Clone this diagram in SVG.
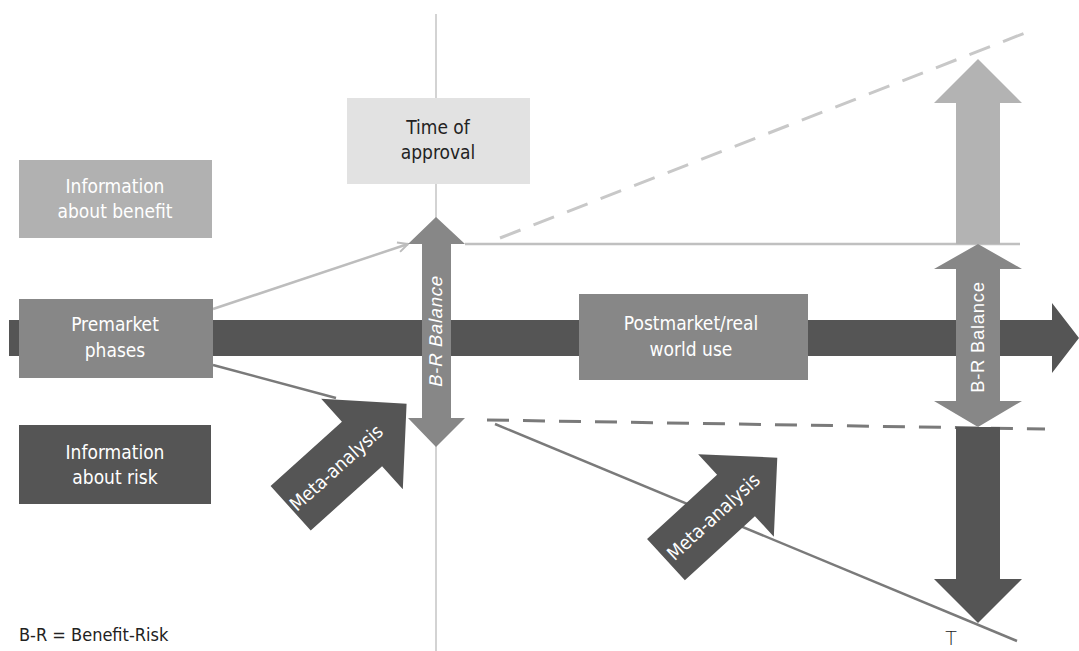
<svg xmlns="http://www.w3.org/2000/svg" width="1079" height="651" viewBox="0 0 1079 651">
<defs>
<style>
.lbl{font-family:"Liberation Sans Narrow","DejaVu Sans Condensed","Liberation Sans",sans-serif;font-size:19px;text-anchor:middle;fill:#ffffff}
.dark{fill:#222222}
.br{font-family:"Liberation Sans",Arial,sans-serif;font-size:18.5px;text-anchor:middle;fill:#ffffff;letter-spacing:0.7px}
.meta{font-family:"Liberation Sans Narrow","DejaVu Sans Condensed","Liberation Sans",sans-serif;font-size:19px;text-anchor:middle;fill:#ffffff}
</style>
<marker id="open" viewBox="0 0 12 12" refX="11" refY="6" markerWidth="12" markerHeight="12" markerUnits="userSpaceOnUse" orient="auto">
<path d="M1,1 L11,6 L1,11" fill="none" stroke="#bdbdbd" stroke-width="2"/>
</marker>
</defs>
<rect width="1079" height="651" fill="#ffffff"/>
<g id="connectors">
<line x1="436" y1="14" x2="436" y2="651" stroke="#c4c4c4" stroke-width="1.5"/>
<line x1="500" y1="238" x2="1025" y2="33" stroke="#c8c8c8" stroke-width="3" stroke-dasharray="22 14"/>
<line x1="465" y1="244" x2="1020" y2="244" stroke="#c0c0c0" stroke-width="2.5"/>
<line x1="487" y1="420" x2="1045" y2="429" stroke="#7a7a7a" stroke-width="3" stroke-dasharray="22 14"/>
<line x1="495" y1="424" x2="1017" y2="641" stroke="#7a7a7a" stroke-width="2.5"/>
<line x1="213" y1="309" x2="408" y2="244" stroke="#bdbdbd" stroke-width="2.5" marker-end="url(#open)"/>
<line x1="213" y1="365" x2="336" y2="398" stroke="#7a7a7a" stroke-width="2.5"/>
</g>
<g id="main-arrow">
<polygon points="9,320 1052,320 1052,303 1079,338 1052,373 1052,356 9,356" fill="#555555"/>
</g>
<g id="time-of-approval">
<rect x="347" y="98" width="183" height="86" fill="#e2e2e2"/>
<text class="lbl dark" x="438" y="134">Time of</text>
<text class="lbl dark" x="438" y="159">approval</text>
</g>
<g id="info-benefit">
<rect x="19" y="160" width="193" height="78" fill="#b1b1b1"/>
<text class="lbl" x="115" y="193">Information</text>
<text class="lbl" x="115" y="218">about benefit</text>
</g>
<g id="premarket">
<rect x="19" y="299" width="194" height="79" fill="#878787"/>
<text class="lbl" x="115" y="331">Premarket</text>
<text class="lbl" x="115" y="357">phases</text>
</g>
<g id="info-risk">
<rect x="19" y="425" width="192" height="79" fill="#555555"/>
<text class="lbl" x="115" y="459">Information</text>
<text class="lbl" x="115" y="484">about risk</text>
</g>
<g id="postmarket">
<rect x="579" y="294" width="229" height="86" fill="#878787"/>
<text class="lbl" x="691" y="330">Postmarket/real</text>
<text class="lbl" x="691" y="356">world use</text>
</g>
<g id="br-balance-left">
<polygon points="436,217 465,244 451,244 451,418 465,418 436,447 408,418 422,418 422,244 408,244" fill="#878787"/>
<text class="br" transform="translate(442,332) rotate(-90) skewX(-12)" x="0" y="0">B-R Balance</text>
</g>
<g id="benefit-up">
<polygon points="978,59 1022,103 1000,103 1000,244 956,244 956,103 934,103" fill="#b3b3b3"/>
</g>
<g id="risk-down">
<polygon points="956,427 1000,427 1000,579 1022,579 978,623 934,579 956,579" fill="#555555"/>
</g>
<g id="br-balance-right">
<polygon points="978,244 1022,269 1000,269 1000,401 1022,401 978,427 934,401 956,401 956,269 934,269" fill="#878787"/>
<text class="br" transform="translate(984,337) rotate(-90)" x="0" y="0">B-R Balance</text>
</g>
<g id="meta-analysis-1" transform="translate(362,444) rotate(-42)">
<polygon points="-96,-30 0,-30 0,-61 60,0 0,61 0,30 -96,30" fill="#555555"/>
<text class="meta" x="-35" y="7">Meta-analysis</text>
</g>
<g id="meta-analysis-2" transform="translate(736,495.5) rotate(-42.5)">
<polygon points="-95,-28 0,-28 0,-56 56,0 0,56 0,28 -95,28" fill="#555555"/>
<text class="meta" x="-31" y="7">Meta-analysis</text>
</g>
<g id="legend">
<text x="19" y="641" style="font-family:'Liberation Sans Narrow','DejaVu Sans Condensed','Liberation Sans',sans-serif;font-size:18px;fill:#222222">B-R = Benefit-Risk</text>
<text x="951" y="645" style="font-family:'DejaVu Sans',sans-serif;font-weight:200;font-size:19px;fill:#222222;text-anchor:middle">T</text>
</g>
</svg>
